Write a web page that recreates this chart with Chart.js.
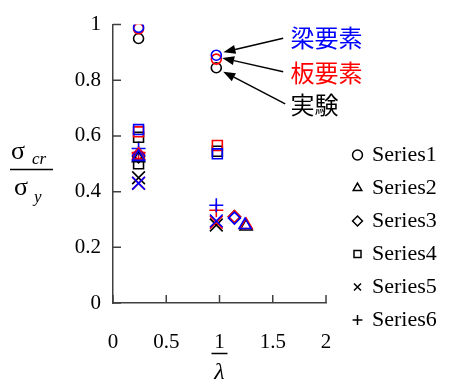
<!DOCTYPE html>
<html>
<head>
<meta charset="utf-8">
<script src="https://cdn.jsdelivr.net/npm/chart.js@4/dist/chart.umd.min.js"></script>
<style>
  html, body { margin: 0; padding: 0; background: #fff; }
  #wrap { width: 449px; height: 382px; }
</style>
</head>
<body>
<div id="wrap"><canvas id="chart"></canvas></div>
<script>
// source of each point: 0 = 実験 (black), 1 = 板要素 (red), 2 = 梁要素 (blue)
const sourceColors = ['#000000', '#ff0000', '#0000ff'];
const seriesNames = ['Series1', 'Series2', 'Series3', 'Series4', 'Series5', 'Series6'];

const s1X = [0.24, 0.97, 0.24, 0.97, 0.24, 0.97];
const s1Y = [0.95, 0.845, 0.985, 0.876, 0.99, 0.89];
const s1Src = [0, 0, 1, 1, 2, 2];

const s2X = [0.24, 1.25, 0.24, 1.25, 0.24, 1.24];
const s2Y = [0.52, 0.275, 0.53, 0.28, 0.525, 0.28];
const s2Src = [0, 0, 1, 1, 2, 2];

const s3X = [0.24, 1.14, 0.24, 1.14, 0.24, 1.14];
const s3Y = [0.525, 0.31, 0.535, 0.31, 0.53, 0.305];
const s3Src = [0, 0, 1, 1, 2, 2];

const s4X = [0.24, 0.24, 0.98, 0.24, 0.98, 0.24, 0.98];
const s4Y = [0.595, 0.5, 0.545, 0.615, 0.566, 0.623, 0.536];
const s4Src = [0, 0, 0, 1, 1, 2, 2];

const s5X = [0.24, 0.97, 0.24, 0.97, 0.24, 0.97];
const s5Y = [0.45, 0.28, 0.43, 0.29, 0.43, 0.295];
const s5Src = [0, 0, 1, 1, 2, 2];

const s6X = [0.24, 0.97, 0.24, 0.97];
const s6Y = [0.54, 0.333, 0.555, 0.351];
const s6Src = [1, 1, 2, 2];

const xTicks = [0, 0.5, 1, 1.5, 2];
const yTicks = [0, 0.2, 0.4, 0.6, 0.8, 1];

const noteTexts = ['梁要素', '板要素', '実験'];
const noteColors = ['#0000ff', '#ff0000', '#000000'];

const allX = [s1X, s2X, s3X, s4X, s5X, s6X];
const allY = [s1Y, s2Y, s3Y, s4Y, s5Y, s6Y];
const allSrc = [s1Src, s2Src, s3Src, s4Src, s5Src, s6Src];
const pointStyles = ['circle', 'triangle', 'rectRot', 'rect', 'crossRot', 'cross'];
const pointSizes = [5, 7, 6, 7, 9, 7];

const serif = '"Liberation Serif", "Times New Roman", serif';
const axisColor = '#404040';

const datasets = seriesNames.map((name, i) => ({
  label: name,
  data: allX[i].map((x, j) => ({ x: x, y: allY[i][j] })),
  pointStyle: pointStyles[i],
  pointRadius: pointSizes[i],
  pointHoverRadius: pointSizes[i],
  pointBorderWidth: 1.6,
  pointBorderColor: allSrc[i].map(s => sourceColors[s]),
  pointBackgroundColor: 'rgba(0,0,0,0)',
  showLine: false
}));

// ticks pointing inward + axis titles + annotations
const extras = {
  id: 'extras',
  afterLayout(chart) {
    const lg = chart.legend;
    lg.left = chart.chartArea.right + 17;
    lg.right = chart.width;
    lg.top = 133;
    lg.bottom = chart.height;
    lg.width = lg.right - lg.left;
    lg.height = lg.bottom - lg.top;
  },
  afterDraw(chart) {
    const ctx = chart.ctx;
    const xs = chart.scales.x, ys = chart.scales.y;
    const area = chart.chartArea;
    ctx.save();
    ctx.strokeStyle = axisColor;
    ctx.lineWidth = 1.5;
    ctx.beginPath();
    yTicks.forEach(v => {
      const py = ys.getPixelForValue(v);
      ctx.moveTo(area.left, py);
      ctx.lineTo(area.left + 8, py);
    });
    xTicks.forEach(v => {
      const px = xs.getPixelForValue(v);
      ctx.moveTo(px, area.bottom);
      ctx.lineTo(px, area.bottom - 8);
    });
    ctx.stroke();

    // y title: sigma_cr / sigma_y
    ctx.fillStyle = '#000';
    ctx.strokeStyle = '#000';
    ctx.textBaseline = 'alphabetic';
    ctx.textAlign = 'left';
    ctx.font = '26px ' + serif;
    ctx.fillText('σ', 11, 159);
    ctx.fillText('σ', 14, 195);
    ctx.font = 'italic 17px ' + serif;
    ctx.fillText('cr', 32, 164);
    ctx.fillText('y', 34, 202);
    ctx.beginPath();
    ctx.moveTo(10, 169.5);
    ctx.lineTo(53, 169.5);
    ctx.stroke();

    // x title: 1 / lambda under the "1" tick label
    const p1 = xs.getPixelForValue(1);
    ctx.beginPath();
    ctx.moveTo(p1 - 8, 353.5);
    ctx.lineTo(p1 + 8, 353.5);
    ctx.stroke();
    ctx.textAlign = 'center';
    ctx.font = 'italic 24px ' + serif;
    ctx.fillText('λ', p1, 379);

    // annotations with arrows
    const tips = [[1.037, 0.901], [1.025, 0.880], [1.035, 0.831]];
    const tails = [[1.598, 0.951], [1.598, 0.831], [1.617, 0.715]];
    const textY = [0.954, 0.827, 0.711];
    tips.forEach((t, i) => {
      const tx = xs.getPixelForValue(t[0]), ty = ys.getPixelForValue(t[1]);
      const sx = xs.getPixelForValue(tails[i][0]), sy = ys.getPixelForValue(tails[i][1]);
      const ang = Math.atan2(ty - sy, tx - sx);
      const hl = 12, hw = 4.5;
      const bx = tx - hl * Math.cos(ang), by = ty - hl * Math.sin(ang);
      ctx.strokeStyle = '#000';
      ctx.lineWidth = 1.5;
      ctx.beginPath();
      ctx.moveTo(sx, sy);
      ctx.lineTo(bx, by);
      ctx.stroke();
      ctx.fillStyle = '#000';
      ctx.beginPath();
      ctx.moveTo(tx, ty);
      ctx.lineTo(bx + hw * Math.sin(ang), by - hw * Math.cos(ang));
      ctx.lineTo(bx - hw * Math.sin(ang), by + hw * Math.cos(ang));
      ctx.closePath();
      ctx.fill();
    });
    ctx.textAlign = 'left';
    ctx.textBaseline = 'middle';
    ctx.font = '24px "Noto Sans CJK JP"';
    noteTexts.forEach((txt, i) => {
      ctx.fillStyle = noteColors[i];
      ctx.fillText(txt, xs.getPixelForValue(1.666), ys.getPixelForValue(textY[i]));
    });
    ctx.restore();
  }
};

new Chart(document.getElementById('chart'), {
  type: 'scatter',
  data: { datasets: datasets },
  options: {
    responsive: true,
    maintainAspectRatio: false,
    animation: false,
    layout: { padding: { top: 19, right: 63, bottom: 0, left: 0 } },
    plugins: {
      tooltip: { enabled: false },
      legend: {
        position: 'right',
        align: 'start',
        maxWidth: 60,
        labels: {
          usePointStyle: true,
          boxWidth: 7,
          boxHeight: 7,
          padding: 11,
          color: '#000',
          font: { family: serif, size: 22 },
          generateLabels(chart) {
            return chart.data.datasets.map((ds, i) => ({
              text: ds.label,
              pointStyle: ds.pointStyle,
              strokeStyle: '#000',
              fillStyle: 'rgba(0,0,0,0)',
              fontColor: '#000',
              lineWidth: 1.5,
              hidden: false,
              datasetIndex: i
            }));
          }
        }
      }
    },
    scales: {
      x: {
        type: 'linear',
        min: 0,
        max: 2,
        afterFit(s) { s.height = 79; },
        afterBuildTicks(s) { s.ticks = xTicks.map(v => ({ value: v })); },
        ticks: { color: '#000', padding: 27, font: { family: serif, size: 21 }, callback: v => String(v) },
        grid: { display: false, drawTicks: false },
        border: { display: true, color: axisColor, width: 1.5 }
      },
      y: {
        type: 'linear',
        min: 0,
        max: 1,
        afterFit(s) { s.width = 113; },
        afterBuildTicks(s) { s.ticks = yTicks.map(v => ({ value: v })); },
        ticks: { color: '#000', padding: 12, font: { family: serif, size: 21 }, callback: v => String(v) },
        grid: { display: false, drawTicks: false },
        border: { display: true, color: axisColor, width: 1.5 }
      }
    }
  },
  plugins: [extras]
});
</script>
</body>
</html>
